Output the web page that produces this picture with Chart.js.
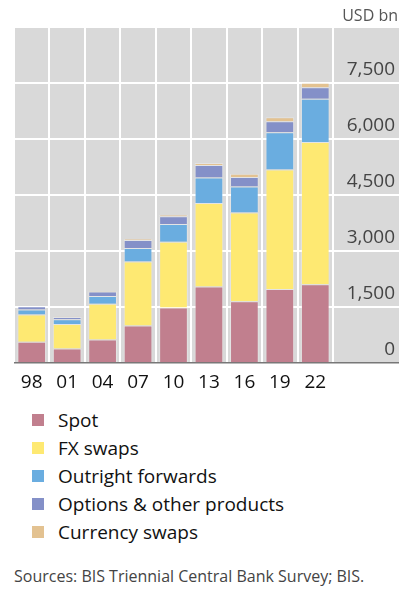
<!DOCTYPE html>
<html>
<head>
<meta charset="utf-8">
<script src="https://cdn.jsdelivr.net/npm/chart.js@4/dist/chart.umd.min.js"></script>
<style>
  html, body { margin: 0; padding: 0; background: #fff; }
  body { width: 414px; height: 595px; position: relative; overflow: hidden; font-family: "Open Sans", sans-serif; }
  #unit { position: absolute; right: 16px; top: 4px; font-size: 16px; color: #555; }
  #c { position: absolute; left: 0; top: 0; }
  #legend { position: absolute; left: 32px; top: 406px; }
  .item { height: 28.1px; display: flex; align-items: center; font-size: 19px; color: #111; }
  .sw { width: 12px; height: 12px; margin-right: 14px; flex: none; }
  #src { position: absolute; left: 14px; top: 565px; font-size: 16px; color: #444; }
</style>
</head>
<body>
<canvas id="c" width="414" height="400"></canvas>
<div id="unit">USD bn</div>
<div id="legend"></div>
<div id="src">Sources: BIS Triennial Central Bank Survey; BIS.</div>
<script>
const categories = ["98", "01", "04", "07", "10", "13", "16", "19", "22"];
const spot = [568, 386, 631, 1005, 1489, 2047, 1652, 1979, 2107];
const fxSwaps = [734, 656, 954, 1714, 1759, 2240, 2378, 3202, 3810];
const outrightForwards = [128, 130, 209, 362, 475, 679, 700, 999, 1163];
const options = [87, 60, 119, 212, 207, 337, 254, 294, 304];
const currencySwaps = [10, 7, 21, 31, 43, 54, 82, 108, 124];
const seriesNames = ["Spot", "FX swaps", "Outright forwards", "Options & other products", "Currency swaps"];
const seriesColors = ["#c17f8e", "#fee972", "#6aade0", "#8490c8", "#e3c291"];
const yTicks = [0, 1500, 3000, 4500, 6000, 7500, 9000];

const seriesData = [spot, fxSwaps, outrightForwards, options, currencySwaps];

const bgPlugin = {
  id: 'bg',
  beforeDraw(chart) {
    const { ctx, chartArea } = chart;
    const y = chart.scales.y;
    ctx.save();
    ctx.fillStyle = '#d9d9d9';
    ctx.fillRect(chartArea.left, chartArea.top, y.right - chartArea.left, chartArea.bottom - chartArea.top);
    ctx.restore();
  }
};

new Chart(document.getElementById('c'), {
  type: 'bar',
  data: {
    labels: categories,
    datasets: seriesData.map((d, i) => ({
      label: seriesNames[i],
      data: d,
      backgroundColor: seriesColors[i],
      borderColor: 'rgba(255,255,255,0.3)',
      borderWidth: 1,
      categoryPercentage: 1,
      barPercentage: 0.81
    }))
  },
  options: {
    responsive: false,
    animation: false,
    layout: { padding: { left: 14, right: 15, top: 27, bottom: 0 } },
    plugins: { legend: { display: false }, tooltip: { enabled: false } },
    scales: {
      x: {
        stacked: true,
        grid: { color: '#ffffff', lineWidth: 2, drawTicks: false, offset: true },
        border: { display: false },
        ticks: { color: '#111', font: { family: 'Open Sans', size: 19 }, padding: 8, maxRotation: 0 },
        afterFit(s) { s.height = 37; s.paddingLeft = 0; s.paddingRight = 0; }
      },
      y: {
        stacked: true,
        position: 'right',
        min: 0,
        max: 9000,
        afterBuildTicks(s) { s.ticks = yTicks.map(v => ({ value: v })); },
        grid: {
          color: c => (c.tick && c.tick.value === 0) ? '#777' : '#ffffff',
          lineWidth: c => (c.tick && c.tick.value === 0) ? 1.5 : 2,
          drawTicks: true,
          tickLength: 66
        },
        border: { display: false },
        ticks: {
          mirror: true,
          crossAlign: 'near',
          padding: 62,
          labelOffset: -13,
          color: '#444',
          font: { family: 'Open Sans', size: 19 },
          callback: v => v === 9000 ? '' : v.toLocaleString('en-US')
        },
        afterFit(s) { s.width = 66; s.paddingTop = 0; s.paddingBottom = 0; }
      }
    }
  },
  plugins: [bgPlugin]
});

const lg = document.getElementById('legend');
seriesNames.forEach((n, i) => {
  const it = document.createElement('div');
  it.className = 'item';
  const sw = document.createElement('span');
  sw.className = 'sw';
  sw.style.background = seriesColors[i];
  const t = document.createElement('span');
  t.textContent = n;
  it.appendChild(sw); it.appendChild(t);
  lg.appendChild(it);
});
</script>
</body>
</html>
